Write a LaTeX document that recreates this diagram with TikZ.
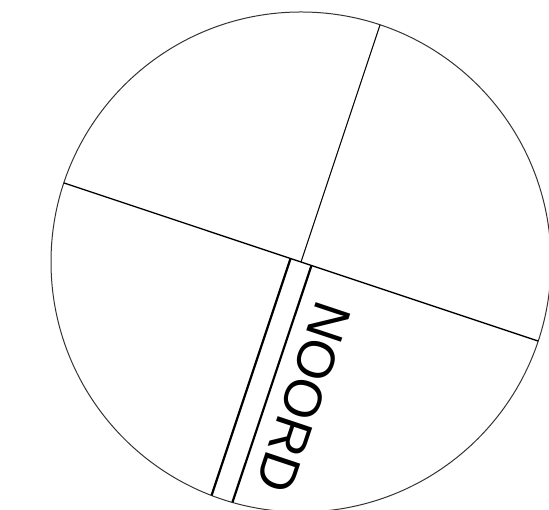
\documentclass[tikz,border=0pt]{standalone}
\usepackage{fontspec}
\setmainfont{Liberation Sans}
\usetikzlibrary{calc}
\begin{document}
\begin{tikzpicture}[x=1pt,y=1pt,
  rim/.style={draw=black!80,line width=1pt},
  arm/.style={draw,line width=1.3pt},
  rail/.style={draw,line width=2.2pt},
  lbl/.style={font=\fontsize{53}{53}\selectfont,inner sep=0pt,anchor=base west,rotate=-108.44}]
  \useasboundingbox (0,0) rectangle (549,510);
  \clip (0,0) rectangle (549,510);
  \coordinate (ctr) at (301,248);
  \coordinate (w) at ($(ctr)+(161.56:250)$);
  \coordinate (e) at ($(ctr)+(-18.44:250)$);
  \coordinate (n) at ($(ctr)+(71.56:250)$);
  \coordinate (rl) at ($(ctr)+(161.56:11)$);
  \coordinate (rr) at ($(ctr)+(-18.44:11)$);
  \coordinate (sl) at ($(rl)+(-108.44:249.8)$);
  \coordinate (sr) at ($(rr)+(-108.44:249.8)$);
  \draw[rim] (ctr) circle[radius=250];
  \draw[arm] (w) -- (e);
  \draw[arm,line width=1pt] (n) -- (ctr);
  \draw[rail] (rl) -- (sl);
  \draw[rail] (rr) -- (sr);
  \node[lbl] (noord) at ($(ctr)+(-18.44:27.5)+(-108.44:28.7)$) {NOORD};
\end{tikzpicture}
\end{document}
